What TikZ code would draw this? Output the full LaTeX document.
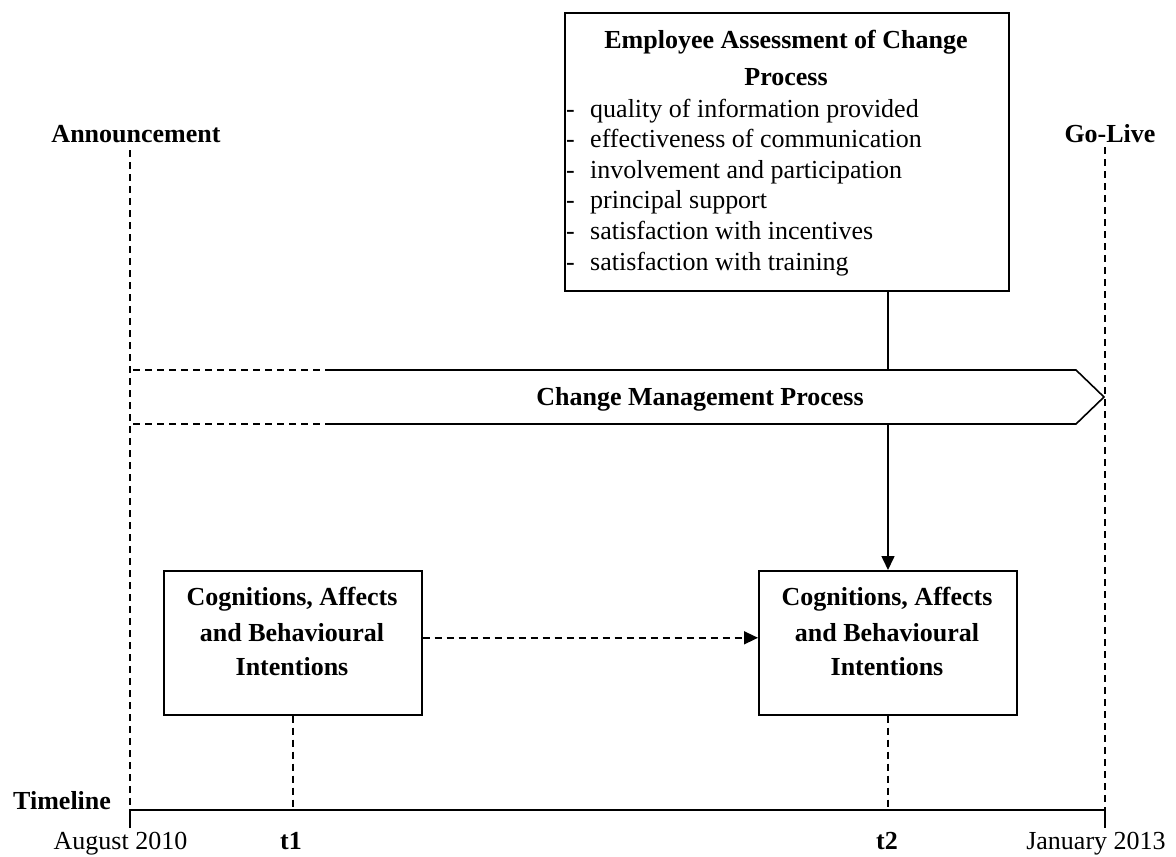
\documentclass[tikz,border=0pt]{standalone}
\usepackage{fontspec}
\setmainfont{Liberation Serif}
\usetikzlibrary{arrows.meta}
\newcommand\dfont{\fontsize{26}{31}\selectfont}
\begin{document}
\begin{tikzpicture}[x=1pt,y=-1pt,
  box/.style={draw, line width=1.6pt, inner sep=0, anchor=north west},
  txt/.style={inner sep=0, anchor=base, font=\dfont},
  btxt/.style={inner sep=0, anchor=base, font=\dfont\bfseries},
  dsh/.style={line width=1.5pt, dash pattern=on 7pt off 5pt},
  ln/.style={line width=1.6pt},
  tip/.style={-{Triangle[length=14pt,width=13pt]}}
]
\useasboundingbox (0,0) rectangle (1176,857);

% top box
\node[box, minimum width=444pt, minimum height=278pt] (assess) at (564,12) {};
\node[btxt] (assessT1) at (786,48) {Employee Assessment of Change};
\node[btxt] (assessT2) at (786,85) {Process};
\foreach \t [count=\i] in {quality of information provided,effectiveness of communication,involvement and participation,principal support,satisfaction with incentives,satisfaction with training}{
  \node[txt, anchor=base west] (dash\i) at (566,{117+30.6*(\i-1)}) {-};
  \node[txt, anchor=base west] (item\i) at (590,{117+30.6*(\i-1)}) {\t};
}

% change management arrow
\coordinate (cmpTL) at (133,370);
\coordinate (cmpSL) at (325,370);
\coordinate (cmpTR) at (1076,370);
\coordinate (cmpTip) at (1104,397);
\coordinate (cmpBR) at (1076,424);
\coordinate (cmpSB) at (325,424);
\coordinate (cmpBL) at (133,424);
\draw[ln] (cmpSL) -- (cmpTR) -- (cmpTip) -- (cmpBR) -- (cmpSB);
\draw[dsh] (cmpTL) -- (cmpSL);
\draw[dsh] (cmpBL) -- (cmpSB);
\node[btxt] (cmp) at (700,405) {Change Management Process};

% bottom boxes
\node[box, minimum width=258pt, minimum height=144pt] (cog1) at (163,570) {};
\node[box, minimum width=258pt, minimum height=144pt] (cog2) at (758,570) {};
\node[btxt] (cog1a) at (292,605) {Cognitions, Affects};
\node[btxt] (cog1b) at (292,641) {and Behavioural};
\node[btxt] (cog1c) at (292,675) {Intentions};
\node[btxt] (cog2a) at (887,605) {Cognitions, Affects};
\node[btxt] (cog2b) at (887,641) {and Behavioural};
\node[btxt] (cog2c) at (887,675) {Intentions};

% connectors
\coordinate (cmpTopJ) at (888,370);
\coordinate (cmpBotJ) at (888,424);
\draw[ln] (assess.south -| cmpTopJ) -- (cmpTopJ);
\draw[ln, tip] (cmpBotJ) -- (cog2.north -| cmpBotJ);
\draw[dsh, tip] ([yshift=5pt]cog1.east) -- ([yshift=5pt]cog2.west);

% timeline
\coordinate (tlS) at (130,810);
\coordinate (tlE) at (1105,810);
\coordinate (tlSd) at (130,828);
\coordinate (tlEd) at (1105,828);
\coordinate (annTop) at (130,150);
\coordinate (goTop) at (1105,147);
\draw[ln] (tlSd) -- (tlS) -- (tlE) -- (tlEd);
\draw[dsh] (annTop) -- (tlS);
\draw[dsh] (goTop) -- (tlE);
\draw[dsh] (cog1.south) -- (cog1.south |- tlS);
\draw[dsh] (cog2.south) -- (cog2.south |- tlS);

% labels
\node[btxt] (ann) at (136,142) {Announcement};
\node[btxt] (golive) at (1110,142) {Go-Live};
\node[btxt, anchor=base west] (tl) at (13,809) {Timeline};
\node[txt] (aug) at (120.5,849) {August 2010};
\node[btxt] (t1) at (291,849) {t1};
\node[btxt] (t2) at (887,849) {t2};
\node[txt] (jan) at (1096,849) {January 2013};
\end{tikzpicture}
\end{document}
